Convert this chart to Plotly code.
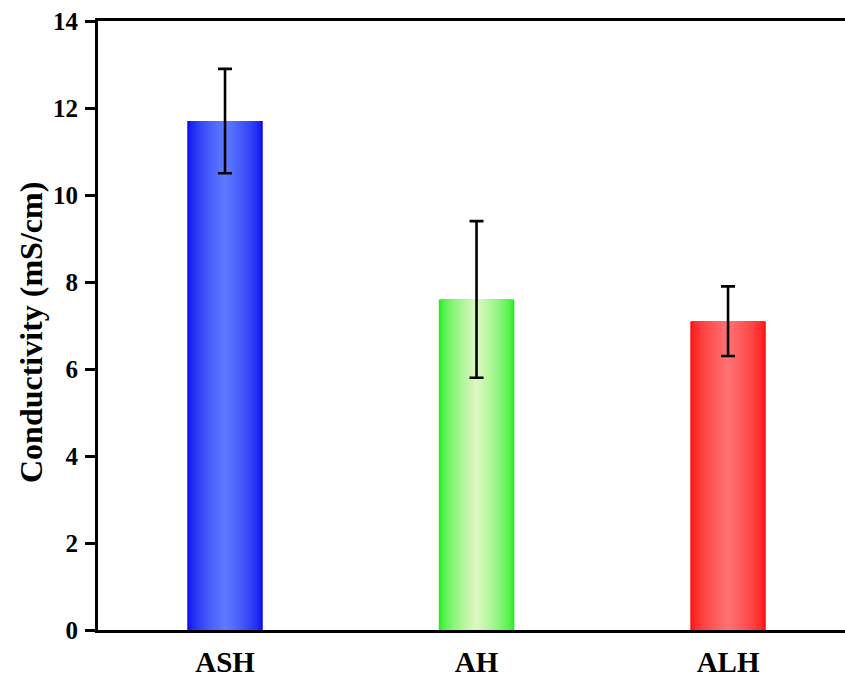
import plotly.graph_objects as go

categories = ["ASH", "AH", "ALH"]
values = [11.7, 7.6, 7.1]
errors = [1.2, 1.8, 0.8]
edge_colors = [(10, 10, 240), (30, 240, 30), (255, 15, 15)]
center_colors = [(95, 125, 255), (225, 248, 195), (255, 115, 115)]
y_ticks = [0, 2, 4, 6, 8, 10, 12, 14]
y_title = "Conductivity (mS/cm)"

BAR_W = 0.3
N = 24
W, H = 845, 680
ML, MR, MT, MB = 98, 0, 21, 50

fig = go.Figure()

def lerp(a, b, t):
    return tuple(int(round(a[i] + (b[i] - a[i]) * t)) for i in range(3))

for k in range(N):
    frac = 1 - k / N
    t = (1 - frac) ** 0.6
    cols = ["rgb(%d,%d,%d)" % lerp(e, c, t) for e, c in zip(edge_colors, center_colors)]
    fig.add_trace(go.Bar(
        x=categories, y=values, width=BAR_W * frac,
        marker=dict(color=cols, line=dict(width=0)),
        showlegend=False, hoverinfo="skip",
    ))

fig.add_trace(go.Scatter(
    x=categories, y=values, mode="markers",
    marker=dict(size=0.1, color="rgba(0,0,0,0)"),
    error_y=dict(type="data", array=errors, visible=True, color="black", thickness=2.6, width=7),
    showlegend=False, hoverinfo="skip",
))

font_family = "Liberation Serif, Times New Roman, serif"
plot_w = W - ML - MR
plot_h = H - MT - MB

fig.update_layout(
    width=W, height=H, autosize=False,
    barmode="overlay",
    plot_bgcolor="white", paper_bgcolor="white",
    margin=dict(l=ML, r=MR, t=MT, b=MB, pad=0),
    font=dict(family=font_family, color="black"),
    xaxis=dict(
        range=[-0.505, 2.465], automargin=False,
        showline=True, linewidth=3, linecolor="black", mirror=True,
        ticks="", showgrid=False, zeroline=False,
        tickfont=dict(size=29, family=font_family, weight="bold"),
        ticklabelstandoff=4,
    ),
    yaxis=dict(
        range=[0, 14], tickvals=y_ticks, automargin=False,
        showline=True, linewidth=3, linecolor="black",
        ticks="outside", ticklen=10, tickwidth=3, tickcolor="black",
        showgrid=False, zeroline=False,
        tickfont=dict(size=25, family=font_family, weight="bold"),
        ticklabelstandoff=2,
    ),
    annotations=[dict(
        text=y_title, xref="paper", yref="paper",
        x=(31 - ML) / plot_w, y=(H - MB - 333) / plot_h,
        xanchor="center", yanchor="middle", textangle=-90, showarrow=False,
        font=dict(size=32, family=font_family, weight="bold"),
    )],
)

fig.write_html(
    "out.html",
    config={"displayModeBar": False},
    post_script="document.body.style.margin='0';document.body.style.overflow='hidden';",
)
